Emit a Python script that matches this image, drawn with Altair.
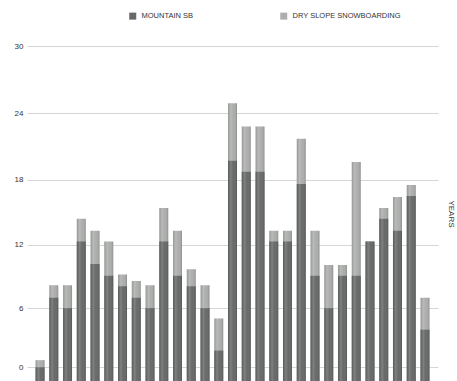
import altair as alt
import pandas as pd

riders = [str(i) for i in range(1, 30)]
mountain_sb = [0, 7, 6, 12.3, 10.2, 9.1, 8.1, 7, 6, 12.3, 9.1, 8.1, 6, 1.8, 19.7,
               18.7, 18.7, 12.3, 12.3, 17.6, 9.1, 6, 9.1, 9.1, 12.3, 14.4, 13.3, 16.5, 3.9]
dry_slope = [0.8, 1.2, 2.2, 2.1, 3.1, 3.2, 1.1, 1.6, 2.2, 3.1, 4.2, 1.6, 2.2, 3.2, 5.2,
             4.1, 4.1, 1.0, 1.0, 4.1, 4.2, 4.1, 1.0, 10.5, 0, 1.0, 3.1, 1.0, 3.1]
series = ["MOUNTAIN SB", "DRY SLOPE SNOWBOARDING"]
colors = ["#676969", "#acaeac"]
y_ticks = [0, 6, 12, 18, 24, 30]

rows = []
for r, m, d in zip(riders, mountain_sb, dry_slope):
    rows.append({"rider": r, "series": series[1], "top": m + d, "ord": 0})
for r, m, d in zip(riders, mountain_sb, dry_slope):
    rows.append({"rider": r, "series": series[0], "top": m, "ord": 1})
df = pd.DataFrame(rows)

W, H = 411, 335
FONT = "Liberation Sans"

xenc = alt.X("rider:N", sort=riders, axis=None,
             scale=alt.Scale(paddingInner=0.345, paddingOuter=0.62))
yscale = alt.Scale(type="pow", exponent=1.052, domain=[-1.5, 30], nice=False, zero=False)

bars = alt.Chart(df).mark_bar().encode(
    x=xenc,
    y=alt.Y("top:Q", stack=None, scale=yscale,
            axis=alt.Axis(values=y_ticks, orient="left", title=None, grid=True,
                          gridColor="#d6d6d6", gridWidth=1, ticks=False, domain=False,
                          labelPadding=4, labelFont=FONT, labelFontSize=8,
                          labelColor="#333333")),
    y2=alt.value(H),
    color=alt.Color("series:N", scale=alt.Scale(domain=series, range=colors),
                    legend=alt.Legend(title=None, orient="none", direction="horizontal",
                                      legendX=102, legendY=-34, symbolType="square",
                                      symbolSize=49, symbolStrokeWidth=0,
                                      labelFont=FONT, labelFontSize=7.5,
                                      labelColor="#333333", labelOffset=5,
                                      columnPadding=86, padding=0)),
    order=alt.Order("ord:Q"),
)

shade = alt.Gradient(
    gradient="linear", x1=0, x2=1, y1=0, y2=0,
    stops=[
        alt.GradientStop(color="rgba(0,0,0,0.10)", offset=0),
        alt.GradientStop(color="rgba(255,255,255,0.16)", offset=0.3),
        alt.GradientStop(color="rgba(255,255,255,0.0)", offset=0.6),
        alt.GradientStop(color="rgba(0,0,0,0.18)", offset=1),
    ],
)

overlay = alt.Chart(df).transform_filter(
    alt.datum.ord == 0
).mark_bar(color=shade).encode(
    x=xenc,
    y=alt.Y("top:Q", stack=None, scale=yscale,
            axis=alt.Axis(orient="right", title="YEARS", grid=False, labels=False,
                          ticks=False, domain=False, titleFont=FONT, titleFontSize=8,
                          titleFontWeight="normal", titleColor="#333333",
                          titleAngle=90, titlePadding=8)),
    y2=alt.value(H),
)

chart = alt.layer(bars, overlay).resolve_scale(y="shared").resolve_axis(
    y="independent"
).properties(
    width=W, height=H, autosize="none",
    padding={"left": 27, "top": 46, "right": 19, "bottom": 0},
).configure_view(strokeWidth=0)

chart.save("out.html", embed_options={"renderer": "svg", "actions": False})
